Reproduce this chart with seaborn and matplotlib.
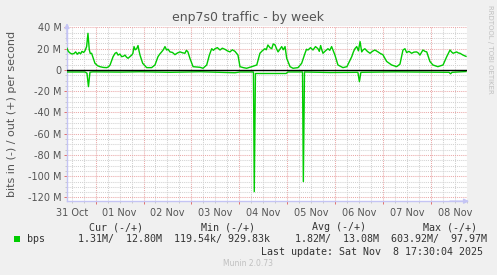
import matplotlib
matplotlib.use("Agg")
import matplotlib.pyplot as plt
import matplotlib.dates as mdates
from matplotlib.ticker import FixedLocator, MultipleLocator, FuncFormatter, NullFormatter
from matplotlib.patches import Rectangle
import pandas as pd
import seaborn as sns

# ---------------- data (values in Mbit/s) ----------------
out_times = [
    "10-31 09:40", "10-31 10:20", "10-31 11:10", "10-31 12:10", "10-31 13:10", "10-31 14:00",
    "10-31 14:50", "10-31 15:40", "10-31 16:30", "10-31 17:10", "10-31 18:00", "10-31 18:40",
    "10-31 19:30", "10-31 20:10", "10-31 20:50", "10-31 21:20", "10-31 22:00", "10-31 23:00",
    "10-31 23:40", "11-01 01:00", "11-01 02:10", "11-01 03:50", "11-01 05:35", "11-01 06:30",
    "11-01 07:15", "11-01 08:00", "11-01 08:45", "11-01 09:45", "11-01 10:30", "11-01 11:15",
    "11-01 12:10", "11-01 13:05", "11-01 14:00", "11-01 14:45", "11-01 15:30", "11-01 16:15",
    "11-01 17:10", "11-01 18:05", "11-01 18:40", "11-01 19:15", "11-01 19:50", "11-01 20:35",
    "11-01 21:15", "11-01 21:45", "11-01 22:15", "11-01 23:35", "11-02 01:35", "11-02 04:05",
    "11-02 05:45", "11-02 07:15", "11-02 08:10", "11-02 09:05", "11-02 09:55", "11-02 10:45",
    "11-02 11:35", "11-02 12:20", "11-02 13:15", "11-02 14:30", "11-02 15:45", "11-02 17:00",
    "11-02 18:15", "11-02 19:30", "11-02 20:45", "11-02 21:30", "11-02 22:15", "11-02 23:15",
    "11-03 00:50", "11-03 02:30", "11-03 04:20", "11-03 05:50", "11-03 07:40", "11-03 09:00",
    "11-03 10:10", "11-03 11:00", "11-03 11:50", "11-03 13:00", "11-03 14:20", "11-03 15:30",
    "11-03 16:50", "11-03 18:00", "11-03 19:20", "11-03 20:30", "11-03 21:50", "11-03 23:20",
    "11-04 00:20", "11-04 02:00", "11-04 03:40", "11-04 06:15", "11-04 08:45", "11-04 10:20",
    "11-04 11:30", "11-04 12:50", "11-04 13:30", "11-04 14:20", "11-04 15:20", "11-04 16:15",
    "11-04 17:00", "11-04 17:55", "11-04 18:40", "11-04 19:25", "11-04 20:20", "11-04 21:15",
    "11-04 22:00", "11-04 22:55", "11-04 23:45", "11-05 01:25", "11-05 02:55", "11-05 05:25",
    "11-05 07:15", "11-05 08:55", "11-05 09:40", "11-05 10:25", "11-05 11:40", "11-05 12:55",
    "11-05 14:10", "11-05 15:25", "11-05 16:05", "11-05 16:45", "11-05 17:20", "11-05 17:55",
    "11-05 19:10", "11-05 20:25", "11-05 21:20", "11-05 22:15", "11-05 23:55", "11-06 01:25",
    "11-06 03:55", "11-06 05:55", "11-06 08:20", "11-06 09:10", "11-06 09:55", "11-06 10:50",
    "11-06 11:40", "11-06 12:30", "11-06 13:20", "11-06 14:05", "11-06 14:55", "11-06 16:10",
    "11-06 17:30", "11-06 18:40", "11-06 19:55", "11-06 21:30", "11-06 22:40", "11-06 23:55",
    "11-07 01:50", "11-07 04:20", "11-07 06:50", "11-07 08:30", "11-07 10:00", "11-07 11:00",
    "11-07 11:50", "11-07 13:00", "11-07 14:20", "11-07 15:30", "11-07 16:50", "11-07 17:40",
    "11-07 18:30", "11-07 20:00", "11-07 21:00", "11-07 21:55", "11-07 23:30", "11-08 01:00",
    "11-08 03:30", "11-08 06:05", "11-08 07:55", "11-08 09:35", "11-08 10:20", "11-08 11:05",
    "11-08 12:55", "11-08 13:45", "11-08 14:35", "11-08 16:05", "11-08 17:35",
]
out_values = [
    20.4, 17.5, 16.0, 15.0, 15.5, 17.0,
    14.8, 16.5, 15.2, 17.5, 16.5, 18.0,
    22.0, 34.5, 19.0, 15.5, 15.7, 10.0,
    6.3, 4.0, 3.1, 2.4, 2.2, 3.0,
    4.7, 8.5, 12.5, 15.7, 16.5, 14.0,
    15.0, 12.5, 13.0, 14.0, 12.0, 11.0,
    12.5, 14.0, 15.5, 22.0, 19.0, 20.0,
    23.0, 18.0, 14.0, 6.3, 2.2, 2.2,
    4.7, 12.5, 15.0, 17.0, 19.0, 22.0,
    18.8, 19.5, 17.0, 16.5, 14.4, 16.0,
    17.0, 16.2, 15.7, 18.5, 17.0, 11.0,
    3.1, 2.8, 2.5, 1.6, 4.7, 14.0,
    20.0, 18.5, 20.0, 21.0, 18.8, 20.5,
    19.4, 18.0, 17.0, 19.0, 17.5, 14.0,
    3.1, 2.2, 1.6, 3.1, 4.7, 15.7,
    18.0, 20.0, 19.0, 23.5, 21.0, 20.0,
    24.5, 23.5, 20.0, 17.0, 19.5, 22.0,
    19.0, 22.0, 11.0, 3.1, 1.6, 2.2,
    6.3, 15.7, 19.5, 18.8, 21.0, 18.8,
    22.0, 20.0, 17.5, 23.0, 19.0, 15.7,
    18.0, 20.0, 18.5, 22.0, 14.0, 4.7,
    2.2, 3.1, 12.5, 17.0, 20.0, 22.0,
    18.0, 26.7, 17.0, 19.0, 20.0, 17.5,
    15.7, 17.5, 18.8, 17.0, 15.5, 14.4,
    8.0, 4.7, 3.1, 5.5, 18.8, 20.0,
    16.4, 17.5, 15.7, 16.8, 17.0, 16.0,
    14.0, 18.8, 17.5, 17.0, 8.0, 4.7,
    3.1, 4.7, 12.5, 18.8, 17.0, 15.7,
    17.0, 16.0, 15.7, 14.0, 12.8,
]

in_times = [
    "10-31 09:40", "10-31 18:40", "10-31 19:40", "10-31 20:25", "10-31 21:10", "10-31 22:40",
    "11-01 12:15", "11-01 22:15", "11-02 13:15", "11-03 04:20", "11-03 21:50", "11-04 00:20",
    "11-04 07:05", "11-04 07:30", "11-04 08:05", "11-04 23:25", "11-05 00:25", "11-05 07:40",
    "11-05 08:05", "11-05 08:40", "11-05 21:30", "11-06 11:25", "11-06 12:10", "11-06 12:55",
    "11-07 06:20", "11-08 09:05", "11-08 09:50", "11-08 10:35", "11-08 17:35",
]
in_values = [
    -1.9, -1.9, -3.0, -15.7, -2.1, -1.8,
    -2.0, -1.7, -2.2, -1.7, -2.6, -1.9,
    -1.9, -114.5, -3.3, -3.3, -1.9, -1.9,
    -105.0, -1.9, -2.4, -2.2, -11.0, -2.2,
    -1.8, -2.2, -3.6, -2.2, -1.5,
]

y_ticks = [40, 20, 0, -20, -40, -60, -80, -100, -120]
y_tick_labels = ["40 M", "20 M", "0", "-20 M", "-40 M", "-60 M", "-80 M", "-100 M", "-120 M"]

legend_headers = ["Cur (-/+)", "Min (-/+)", "Avg (-/+)", "Max (-/+)"]
legend_values = ["1.31M/  12.80M", "119.54k/ 929.83k", "1.82M/  13.08M", "603.92M/  97.97M"]

# ---------------- figure ----------------
W, H = 497, 275
fig = plt.figure(figsize=(W / 100, H / 100), dpi=100, facecolor="#f0f0f0")

def px(x, y):
    return x / W, 1 - y / H

ax = fig.add_axes([67 / W, 1 - 201.2 / H, 400 / W, 174.8 / H])
ax.set_facecolor("white")

df_out = pd.DataFrame({"time": pd.to_datetime(["2025-" + t for t in out_times]), "value": out_values})
df_in = pd.DataFrame({"time": pd.to_datetime(["2025-" + t for t in in_times]), "value": in_values})

green = "#00cc00"
sns.lineplot(data=df_in, x="time", y="value", ax=ax, color=green, lw=1.0, zorder=3)
sns.lineplot(data=df_out, x="time", y="value", ax=ax, color=green, lw=1.0, zorder=3)
ax.axhline(0, color="black", lw=1.0, zorder=4)

ax.set_xlim(pd.Timestamp("2025-10-31 09:40"), pd.Timestamp("2025-11-08 18:05"))
ax.set_ylim(-123.5, 41)
ax.set_xlabel("")
ax.set_ylabel("")

# y axis
ax.yaxis.set_major_locator(FixedLocator(y_ticks))
ax.set_yticklabels(y_tick_labels)
ax.yaxis.set_minor_locator(MultipleLocator(5))

# x axis: majors at midnight, minors every 6 h, labels at noon
ax.xaxis.set_major_locator(mdates.DayLocator())
ax.xaxis.set_major_formatter(NullFormatter())
ax.xaxis.set_minor_locator(mdates.HourLocator(byhour=[6, 12, 18]))

def noon_label(v, pos):
    d = mdates.num2date(v)
    return d.strftime("%d %b") if d.hour == 12 else ""

ax.xaxis.set_minor_formatter(FuncFormatter(noon_label))

mgrid = "#eaa8a8"
ngrid = "#d2d2d2"
ax.grid(which="major", color=mgrid, ls=(0, (1, 1)), lw=0.75)
ax.grid(which="minor", color=ngrid, ls=(0, (1, 1)), lw=0.75)
ax.set_axisbelow(True)

ax.tick_params(axis="both", which="major", colors="#e07070", length=2.5, width=0.7,
               labelcolor="#555555", labelsize=7)
ax.tick_params(axis="both", which="minor", colors="#c8c8c8", length=1.5, width=0.7,
               labelcolor="#555555", labelsize=7)
ax.tick_params(axis="y", which="major", pad=1.5)
ax.tick_params(axis="x", which="minor", pad=3.5)

for s in ["top", "right"]:
    ax.spines[s].set_visible(False)
axis_col = "#c4c4f4"
for s in ["left", "bottom"]:
    ax.spines[s].set_color(axis_col)
    ax.spines[s].set_linewidth(1.0)

ax.annotate("", xy=(0, 1.035), xytext=(0, 0.9), xycoords="axes fraction",
            arrowprops=dict(arrowstyle="-|>", color=axis_col, lw=1.0, mutation_scale=7),
            annotation_clip=False)
ax.annotate("", xy=(1.012, 0), xytext=(0.95, 0), xycoords="axes fraction",
            arrowprops=dict(arrowstyle="-|>", color=axis_col, lw=1.0, mutation_scale=7),
            annotation_clip=False)

# ---------------- texts ----------------
fig.text(*px(248, 18), "enp7s0 traffic - by week", ha="center", va="center",
         fontsize=9, color="#555555")
fig.text(*px(12, 114), "bits in (-) / out (+) per second", ha="center", va="center",
         rotation=90, fontsize=8, color="#555555")
fig.text(*px(490, 5), "RRDTOOL / TOBI OETIKER", ha="center", va="top",
         rotation=270, fontsize=5, color="#c0c0c0")

mono = dict(family="DejaVu Sans Mono", fontsize=7.2, color="#333333", va="center")
for x0, t in zip([89, 201, 312, 423], legend_headers):
    fig.text(*px(x0, 227), t, ha="left", **mono)
fig.patches.append(Rectangle(px(14, 242), 6 / W, 6 / H, transform=fig.transFigure,
                             facecolor=green, edgecolor="none"))
fig.text(*px(27, 239), "bps", ha="left", **mono)
for x0, t in zip([78, 174, 295, 391], legend_values):
    fig.text(*px(x0, 239), t, ha="left", **mono)
fig.text(*px(483, 252), "Last update: Sat Nov  8 17:30:04 2025", ha="right", **mono)
fig.text(*px(248, 264), "Munin 2.0.73", ha="center", va="center", fontsize=5.5, color="#c0c0c0")

fig.savefig("out.png", dpi=100, facecolor=fig.get_facecolor())
